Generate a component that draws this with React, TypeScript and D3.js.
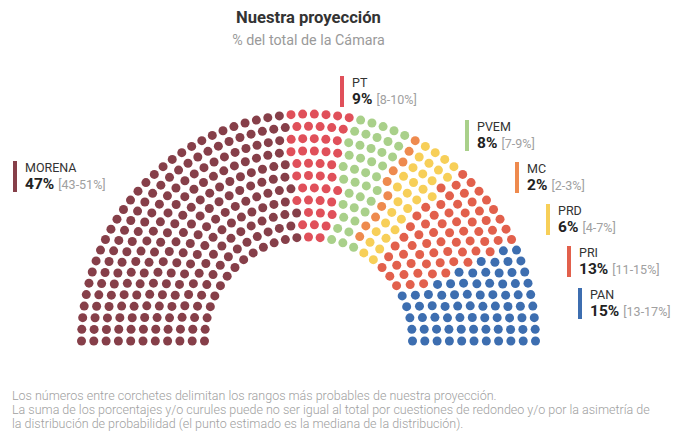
import React from "react";
import * as d3 from "d3";

const parties = ["MORENA", "PT", "PVEM", "MC", "PRD", "PRI", "PAN"];
const percents = [47, 9, 8, 2, 6, 13, 15];
const ranges = ["43-51%", "8-10%", "7-9%", "2-3%", "4-7%", "11-15%", "13-17%"];
const seatCounts = [235, 45, 40, 10, 30, 65, 75];
const colors = ["#863f49", "#e0505a", "#a9d08a", "#ee8a4e", "#f7cf58", "#e2604c", "#3d6eb0"];

const footnotes = [
  "Los números entre corchetes delimitan los rangos más probables de nuestra proyección.",
  "La suma de los porcentajes y/o curules puede no ser igual al total por cuestiones de redondeo y/o por la asimetría de",
  "la distribución de probabilidad (el punto estimado es la mediana de la distribución).",
];

// layout
const W = 680, H = 436;
const cx = 308.5, cy = 341;
const rInner = 104, rOuter = 227, nRows = 11, dotR = 4.5;
const labelPos: [number, number][] = [
  [13, 161], [340, 76], [465, 120], [515, 162], [546, 204], [567, 246], [578, 288],
];

function layoutSeats(total: number) {
  const radii = d3.range(nRows).map((i) => rInner + (i * (rOuter - rInner)) / (nRows - 1));
  const sumR = d3.sum(radii);
  const counts = radii.map((r) => Math.round((total * r) / sumR));
  let diff = total - d3.sum(counts);
  let k = nRows - 1;
  while (diff !== 0) {
    counts[k] += diff > 0 ? 1 : -1;
    diff += diff > 0 ? -1 : 1;
    k = (k - 1 + nRows) % nRows;
  }
  const seats: { a: number; row: number; r: number }[] = [];
  radii.forEach((r, i) => {
    const n = counts[i];
    for (let j = 0; j < n; j++) {
      seats.push({ a: Math.PI - (j * Math.PI) / (n - 1), row: i, r });
    }
  });
  seats.sort((p, q) => q.a - p.a || p.row - q.row);
  return seats;
}

export default function App() {
  const total = d3.sum(seatCounts);
  const seats = layoutSeats(total);
  const partyIdx: number[] = [];
  seatCounts.forEach((c, i) => {
    for (let j = 0; j < c; j++) partyIdx.push(i);
  });
  const font = "Roboto, 'Noto Sans', sans-serif";
  return (
    <svg width={W} height={H} style={{ position: "absolute", left: 0, top: 0, background: "#fff" }} fontFamily={font}>
      <text x={cx} y={23} textAnchor="middle" fontSize={16.6} fontWeight={700} fill="#333">
        Nuestra proyección
      </text>
      <text x={cx} y={45} textAnchor="middle" fontSize={14.3} fill="#9a9a9a">
        % del total de la Cámara
      </text>
      <g>
        {seats.map((s, i) => (
          <circle
            key={i}
            cx={cx + s.r * Math.cos(s.a)}
            cy={cy - s.r * Math.sin(s.a)}
            r={dotR}
            fill={colors[partyIdx[i]]}
          />
        ))}
      </g>
      <g>
        {parties.map((p, i) => {
          const [x, y] = labelPos[i];
          return (
            <g key={p} transform={`translate(${x},${y})`}>
              <rect x={0} y={0} width={4} height={31} fill={colors[i]} />
              <text x={12} y={11} fontSize={12.5} fill="#333">{p}</text>
              <text x={12} y={28} fontSize={15.5} fontWeight={700} fill="#222">
                {percents[i]}%
                <tspan dx={4} fontSize={12.5} fontWeight={400} fill="#a0a0a0">[{ranges[i]}]</tspan>
              </text>
            </g>
          );
        })}
      </g>
      <g fontSize={12.5} fill="#a0a0a0" fontWeight={300}>
        {footnotes.map((t, i) => (
          <text key={i} x={12} y={400 + i * 14}>{t}</text>
        ))}
      </g>
    </svg>
  );
}
